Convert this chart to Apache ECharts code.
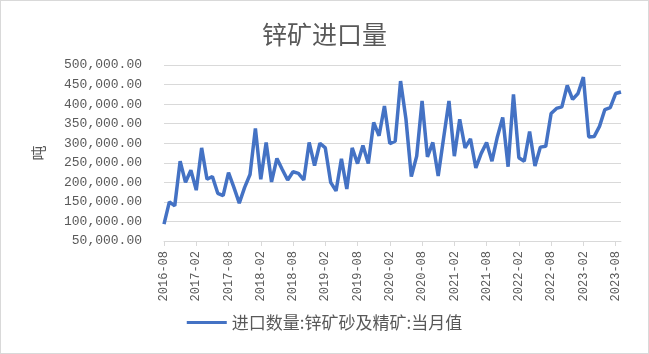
<!DOCTYPE html>
<html>
<head>
<meta charset="utf-8">
<script src="https://cdn.jsdelivr.net/npm/echarts@6/dist/echarts.min.js"></script>
<style>
  html, body { margin: 0; padding: 0; background: #fff; }
  #main { width: 649px; height: 354px; box-sizing: border-box; border: 1px solid #d9d9d9; }
</style>
</head>
<body>
<div id="main"></div>
<script>
// 月份：2016-08 ~ 2023-09
let months = [];
for (let y = 2016, m = 8; months.length < 86; m++) {
  if (m > 12) { m = 1; y++; }
  months.push(y + '-' + (m < 10 ? '0' + m : m));
}
// 进口数量:锌矿砂及精矿:当月值（吨）
let zincImport = [
  93000, 150000, 140000, 254000, 200000, 231000, 180000, 288000, 208000, 215000,
  172000, 166000, 225000, 187000, 147000, 187000, 220000, 338000, 208000, 302000,
  201000, 261000, 233000, 206000, 227000, 223000, 206000, 302000, 243000, 300000,
  288000, 200000, 178000, 260000, 183000, 288000, 248000, 294000, 248000, 353000,
  319000, 395000, 299000, 305000, 459000, 362000, 215000, 267000, 408000, 265000,
  302000, 216000, 313000, 408000, 267000, 361000, 288000, 311000, 237000, 274000,
  302000, 254000, 316000, 366000, 240000, 425000, 263000, 254000, 330000, 242000,
  290000, 292000, 376000, 389000, 393000, 448000, 412000, 427000, 469000, 316000,
  317000, 343000, 386000, 391000, 427000, 431000
];
let seriesName = '进口数量:锌矿砂及精矿:当月值';

var textColor = '#595959';
var option = {
  animation: false,
  title: {
    text: '锌矿进口量',
    left: 'center',
    top: 16,
    textStyle: { fontSize: 25, fontWeight: 'normal', color: textColor, fontFamily: 'Noto Sans CJK SC' }
  },
  grid: { left: 163, right: 27, top: 64, bottom: 112 },
  legend: {
    bottom: 17,
    left: 'center',
    icon: 'rect',
    itemWidth: 40,
    itemHeight: 3,
    itemGap: 4,
    textStyle: { fontSize: 17, color: textColor, fontFamily: 'Noto Sans CJK SC' },
    data: [seriesName]
  },
  xAxis: {
    type: 'category',
    data: months,
    boundaryGap: false,
    axisLine: { lineStyle: { color: '#d9d9d9' } },
    axisTick: { show: true, interval: 5, length: 5, lineStyle: { color: '#d9d9d9' } },
    axisLabel: {
      interval: 5,
      rotate: 90,
      margin: 10,
      color: textColor,
      fontSize: 12,
      fontFamily: 'Liberation Mono'
    }
  },
  yAxis: {
    type: 'value',
    min: 50000,
    max: 500000,
    interval: 50000,
    name: '吨',
    nameLocation: 'middle',
    nameRotate: 90,
    nameGap: 118,
    nameTextStyle: { fontSize: 15, color: textColor, fontFamily: 'Noto Sans CJK SC' },
    axisLine: { show: false },
    axisTick: { show: false },
    splitLine: { lineStyle: { color: '#d9d9d9' } },
    axisLabel: {
      margin: 22,
      color: textColor,
      fontSize: 13,
      fontFamily: 'Liberation Mono',
      formatter: function (v) {
        return v.toLocaleString('en-US', { minimumFractionDigits: 2, maximumFractionDigits: 2 });
      }
    }
  },
  series: [
    {
      name: seriesName,
      type: 'line',
      data: zincImport,
      showSymbol: false,
      symbol: 'none',
      lineStyle: { color: '#4472c4', width: 3.5 },
      itemStyle: { color: '#4472c4' }
    }
  ]
};

var myChart = echarts.init(document.getElementById('main'));
myChart.setOption(option);
</script>
</body>
</html>
